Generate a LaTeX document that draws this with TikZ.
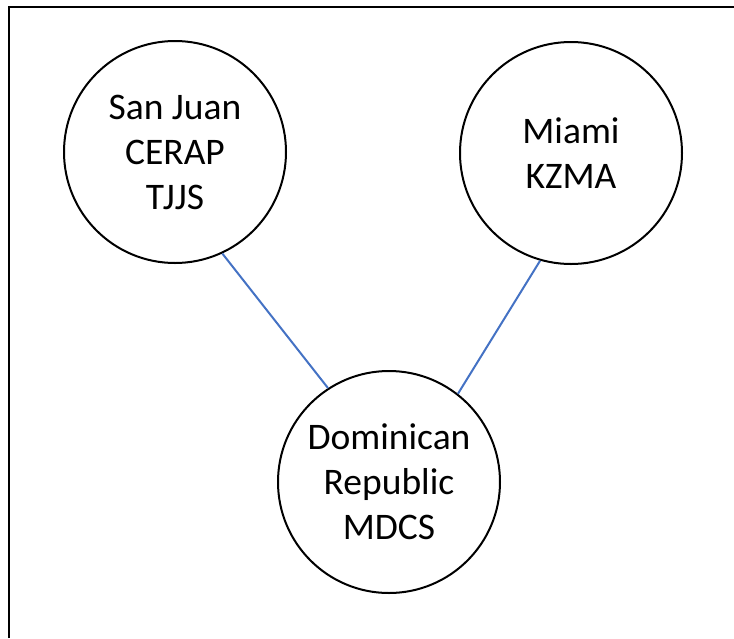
\documentclass[tikz,border=0pt]{standalone}
\usepackage{fontspec}
\setmainfont{Carlito}
\begin{document}
\begin{tikzpicture}[x=1pt,y=-1pt,
  station/.style={circle,draw=black,line width=2pt,minimum size=222pt,inner sep=0pt,
    align=center,font=\fontsize{37.5}{45}\selectfont,text=black},
  link/.style={draw={rgb,255:red,68;green,114;blue,196},line width=2pt}]
\useasboundingbox (0,0) rectangle (734,638);
\draw[line width=2pt] (9,638) -- (9,7) -- (734,7);
\node[station] (sj) at (175,152) {San Juan\\CERAP\\TJJS};
\node[station] (mia) at (571,153) {Miami\\KZMA};
\node[station] (dr) at (389,482) {Dominican\\Republic\\MDCS};
\draw[link] (sj.-65) -- (dr.123);
\draw[link] (mia.-106) -- (dr.52);
\end{tikzpicture}
\end{document}
